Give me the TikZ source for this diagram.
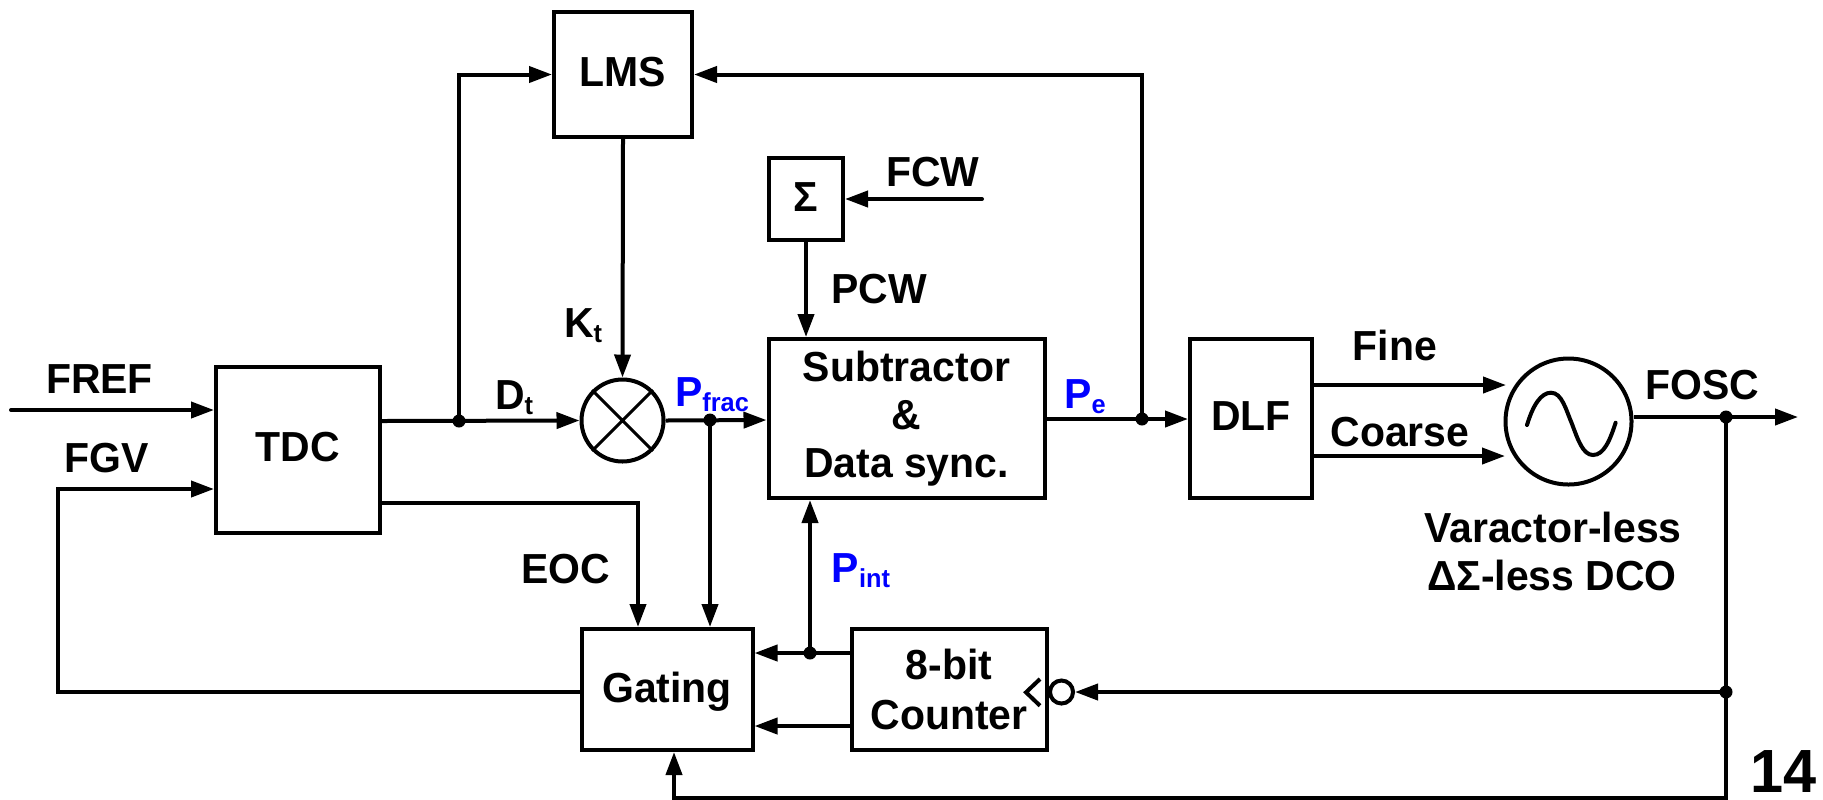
\documentclass[tikz,border=0pt]{standalone}
\usepackage{fontspec}
\setmainfont[FakeStretch=0.975]{Liberation Sans}
\usetikzlibrary{
  calc, % For coordinate calculations
  arrows.meta % For arrow tips
}
\definecolor{sigblue}{RGB}{0,0,255}
\newcommand{\subtxt}[1]{\raisebox{-2.5pt}{\fontsize{13}{13}\selectfont #1}}

\begin{document}
\begin{tikzpicture}[
      x=0.5pt, y=-0.5pt,
      line width=2pt, % Default line thickness
      >={Triangle[length=11.5pt,width=8pt]}, % Default arrow tip
      every node/.style={font=\fontsize{21}{24}\selectfont\bfseries},
      block/.style={draw, align=center, inner sep=0pt}, % Style for boxes
      dot/.style={circle, fill=black, inner sep=0pt, minimum size=6.5pt}, % Junctions
      sig/.style={->}, % Style for signal arrows
      lbl/.style={anchor=base, inner sep=0pt}, % Style for labels
      siglbl/.style={lbl, text=sigblue}, % Style for blue labels
    ]
    \useasboundingbox (0,0) rectangle (1823,799);

    % Blocks
    \node[block, text depth=2.5pt, minimum width=69pt, minimum height=62.5pt] (lms) at (623,74.5) {LMS};
    \node[block, text depth=3pt, minimum width=82pt, minimum height=83pt] (tdc) at (298,450) {TDC};
    \node[block, text depth=1.5pt, minimum width=37pt, minimum height=41pt] (sigma) at (806,199) {Σ};
    \node[block, minimum width=138pt, minimum height=79.5pt] (sub) at (906.5,418.5) {Subtractor\\\&\\Data sync.};
    \node[block, text depth=2.5pt, minimum width=61pt, minimum height=79.5pt] (dlf) at (1251,418.5) {DLF};
    \node[block, text depth=1.9pt, minimum width=85.5pt, minimum height=60.5pt] (gating) at (667,689.5) {Gating};
    \node[block, minimum width=97.5pt, minimum height=60.5pt, font=\fontsize{21}{25}\selectfont\bfseries] (counter) at (949,689.5) {8-bit\\Counter};

    % Multiplier and oscillator
    \node[draw, circle, minimum size=41pt, inner sep=0pt] (mul) at (622.5,420.5) {};
    \draw[line width=1.5pt] (mul.45) -- (mul.225) (mul.135) -- (mul.-45);
    \node[draw, circle, minimum size=63pt, inner sep=0pt] (vco) at (1568.5,421.5) {};
    \draw[line cap=round] (1527,425) .. controls (1533,405) and (1541,392.7) .. (1551,392.7)
      .. controls (1562,392.7) and (1566,410) .. (1572,424)
      .. controls (1578,440) and (1583,455) .. (1593,455)
      .. controls (1604,455) and (1610,440) .. (1615.6,422.7);

    % Clock input of the counter
    \draw (1040,679) -- (1026,692.3) -- (1040,705.7);
    \node[draw, circle, minimum size=11.5pt, inner sep=0pt] (bubble) at (1061.5,692) {};

    % Junctions
    \node[dot] (dt) at (459,421) {};
    \node[dot] (pfrac) at (710,420) {};
    \node[dot] (pe) at (1142,419) {};
    \node[dot] (pint) at (810,653) {};
    \node[dot] (fosc) at (1726,417) {};
    \node[dot] (fb) at (1726,692) {};

    % Free ends and bends
    \coordinate (frefin) at (11,410);
    \coordinate (fgvbend) at (58,489);
    \coordinate (fgvlow) at (58,692);
    \coordinate (fcwin) at (982,199);
    \coordinate (eocbend) at (638,503);
    \coordinate (cntlow) at (852,726);
    \coordinate (finein) at (1506,385);
    \coordinate (coarsein) at (1505,456);
    \coordinate (foscout) at (1798,417);
    \coordinate (gatebot) at (674,797.5);

    % Connectors
    \draw[sig, line cap=round] (frefin) -- (tdc.west |- frefin);
    \draw[sig] (gating.west |- fgvlow) -- (fgvlow) -- (fgvbend) -- (tdc.west |- fgvbend);
    \draw[sig] (tdc.east |- dt) -- (mul.west);
    \draw[sig] (dt.center) |- (lms.west);
    \draw[sig] (lms.south) -- (mul.north);
    \draw[sig] (mul.east) -- (sub.west |- pfrac);
    \draw[sig] (pfrac.center) -- (pfrac |- gating.north);
    \draw[sig] (tdc.east |- eocbend) -| (eocbend |- gating.north);
    \draw[sig, line cap=round] (fcwin) -- (sigma.east);
    \draw[sig] (sigma.south) -- (sub.north -| sigma);
    \draw[sig] (sub.east |- pe) -- (dlf.west |- pe);
    \draw[sig] (pe.center) |- (lms.east);
    \draw[sig] (dlf.east |- finein) -- (finein);
    \draw[sig] (dlf.east |- coarsein) -- (coarsein);
    \draw[sig] (vco.east |- fosc) -- (foscout);
    \draw (fosc.center) -- (fb.center);
    \draw[sig] (fb.center) -- (bubble.east);
    \draw[sig] (fb.center) |- (gatebot) -- (gating.south -| gatebot);
    \draw[sig] (counter.west |- pint) -- (gating.east |- pint);
    \draw[sig] (pint.center) -- (sub.south -| pint);
    \draw[sig] (cntlow) -- (gating.east |- cntlow);

    % Labels
    \node[lbl] (lfref) at (99.5,393) {FREF};
    \node[lbl] (lfgv) at (107,472) {FGV};
    \node[lbl] (ldt) at (514,409) {D\subtxt{t}};
    \node[lbl] (lkt) at (583,337) {K\subtxt{t}};
    \node[siglbl] (lpfrac) at (712,406) {P\subtxt{frac}};
    \node[siglbl] (lpe) at (1085,408) {P\subtxt{e}};
    \node[siglbl] (lpint) at (861,582) {P\subtxt{int}};
    \node[lbl] (leoc) at (566,583) {EOC};
    \node[lbl] (lpcw) at (879,303) {PCW};
    \node[lbl] (lfcw) at (933,186) {FCW};
    \node[lbl] (lfine) at (1395,360) {Fine};
    \node[lbl] (lcoarse) at (1400,446) {Coarse};
    \node[lbl] (lfosc) at (1702,399) {FOSC};
    \node[lbl] (lvar) at (1553,542) {Varactor-less};
    \node[lbl] (ldco) at (1552,590) {ΔΣ-less DCO};
    \node[lbl, anchor=base east, font=\fontsize{30.5}{30.5}\selectfont\bfseries] (lpage) at (1819,792) {14};
  \end{tikzpicture}
\end{document}
